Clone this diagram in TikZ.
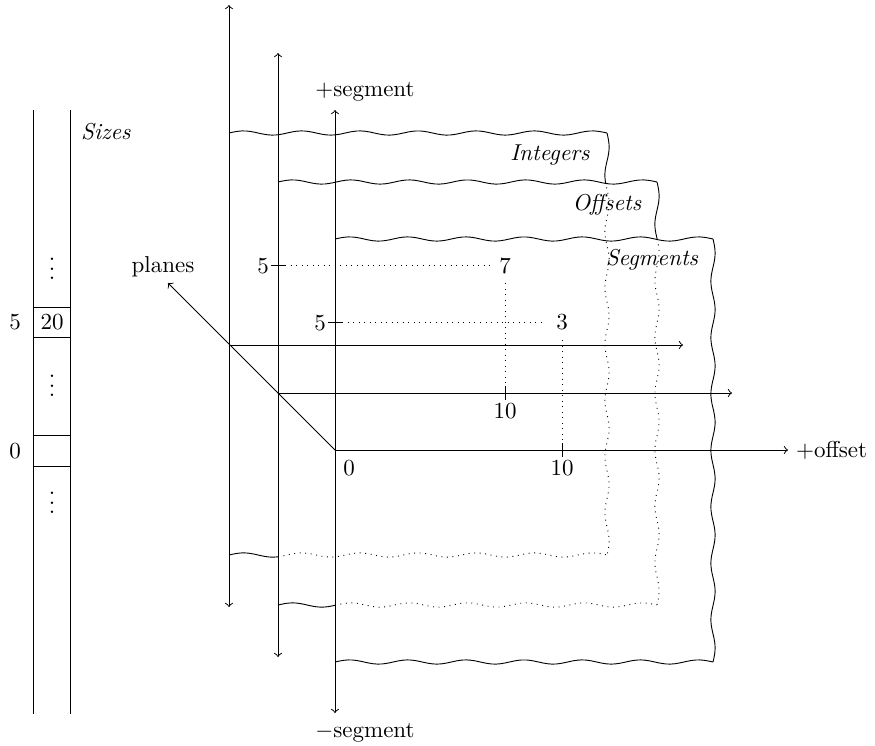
\documentclass[tikz,border=0pt]{standalone}
\begin{document}
% horizontal wave: y, x0, x1 (full edge), half-waves, drawn from a to b
\newcommand\myhwave[6]{plot[domain=#5:#6, samples=90, smooth, variable=\t] (\t,{#1 - 2.1*sin((\t-#2)/(#3-#2)*#4*180)})}
% vertical wave: x, y0, y1 (full edge), half-waves, drawn from a to b
\newcommand\myvwave[6]{plot[domain=#5:#6, samples=90, smooth, variable=\t] ({#1 + 2.1*sin((\t-#2)/(#3-#2)*#4*180)},\t)}
\begin{tikzpicture}[x=0.4348pt,y=-0.4348pt,
  hid/.style={dotted},
  guide/.style={dotted},
  lbl/.style={inner sep=0pt}]
\useasboundingbox (0,0) rectangle (875,746);

% ---------- Sizes column ----------
\draw (33,110) -- (33,714);
\draw (70,110) -- (70,714);
\draw (33,307) -- (70,307);
\draw (33,337) -- (70,337);
\draw (33,435) -- (70,435);
\draw (33,466) -- (70,466);
\node[lbl] (sizes) at (106,132) {\textit{Sizes}};
\node[lbl] (d1) at (52,262) {$\vdots$};
\node[lbl] (d2) at (52,379) {$\vdots$};
\node[lbl] (d3) at (52,496) {$\vdots$};
\node[lbl] (c20) at (52,322) {20};
\node[lbl] (i5) at (15,322) {5};
\node[lbl] (i0) at (15,451) {0};

% ---------- plane 1 (Integers) ----------
\draw \myhwave{133}{229}{607}{13}{229}{607};
\draw \myvwave{607}{133}{555}{15}{133}{182};
\draw[hid] \myvwave{607}{133}{555}{15}{182}{555};
\draw \myhwave{555}{229}{607}{13}{229}{278};
\draw[hid] \myhwave{555}{229}{607}{13}{278}{607};
% ---------- plane 2 (Offsets) ----------
\draw \myhwave{182}{278}{657}{13}{278}{657};
\draw \myvwave{657}{182}{605}{15}{182}{239};
\draw[hid] \myvwave{657}{182}{605}{15}{239}{605};
\draw \myhwave{605}{278}{657}{13}{278}{335};
\draw[hid] \myhwave{605}{278}{657}{13}{335}{657};
% ---------- plane 3 (Segments) ----------
\draw \myhwave{239}{335}{713}{13}{335}{713};
\draw \myvwave{713}{239}{662}{15}{239}{662};
\draw \myhwave{662}{335}{713}{13}{335}{713};

\node[lbl] (integers) at (550,155) {\textit{Integers}};
\node[lbl] (offsets) at (607,205) {\textit{Offsets}};
\node[lbl] (segments) at (652,260) {\textit{Segments}};

% ---------- axes ----------
\coordinate (O1) at (229,345);
\coordinate (O2) at (278,393);
\coordinate (O3) at (335,450);
\coordinate (v1t) at (229,5);   \coordinate (v1b) at (229,607);
\coordinate (v2t) at (278,53);  \coordinate (v2b) at (278,657);
\coordinate (v3t) at (335,110); \coordinate (v3b) at (335,713);
\coordinate (h1) at (683,345);
\coordinate (h2) at (732,393);
\coordinate (h3) at (788,450);
\coordinate (pl) at (168,283);

\draw[<->] (v1t) -- (v1b);
\draw[<->] (v2t) -- (v2b);
\draw[<->] (v3t) -- (v3b);
\draw[->] (O1) -- (h1);
\draw[->] (O2) -- (h2);
\draw[->] (O3) -- (h3);
\draw[->] (O3) -- (pl);

\node[anchor=west] (offset) at (h3) {+offset};
\node[lbl] (planes) at (163,267) {planes};
\node[lbl] (pseg) at (365,92) {+segment};
\node[lbl] (mseg) at (365,733) {$-$segment};

% ---------- ticks plane 2 ----------
\coordinate (t2a) at (271,265); \coordinate (t2b) at (285,265);
\draw (t2a) -- (t2b);
\node[lbl] (f5b) at (263,266) {5};
\node[lbl] (seven) at (505,266) {7};
\coordinate (g2a) at (490,265);
\draw[guide] (t2b) -- (g2a);
\coordinate (t2c) at (505,386); \coordinate (t2d) at (505,400);
\draw (t2c) -- (t2d);
\coordinate (g2b) at (505,283);
\draw[guide] (g2b) -- (t2c);
\node[lbl] (ten2) at (505,411) {10};

% ---------- ticks plane 3 ----------
\coordinate (t3a) at (328,322); \coordinate (t3b) at (342,322);
\draw (t3a) -- (t3b);
\node[lbl] (f5c) at (320,323) {5};
\node[lbl] (three) at (562,322) {3};
\coordinate (g3a) at (545,322);
\draw[guide] (t3b) -- (g3a);
\coordinate (t3c) at (562,443); \coordinate (t3d) at (562,457);
\draw (t3c) -- (t3d);
\coordinate (g3b) at (562,340);
\draw[guide] (g3b) -- (t3c);
\node[lbl] (ten3) at (562,468) {10};
\node[lbl] (zero) at (349,468) {0};
\end{tikzpicture}
\end{document}
